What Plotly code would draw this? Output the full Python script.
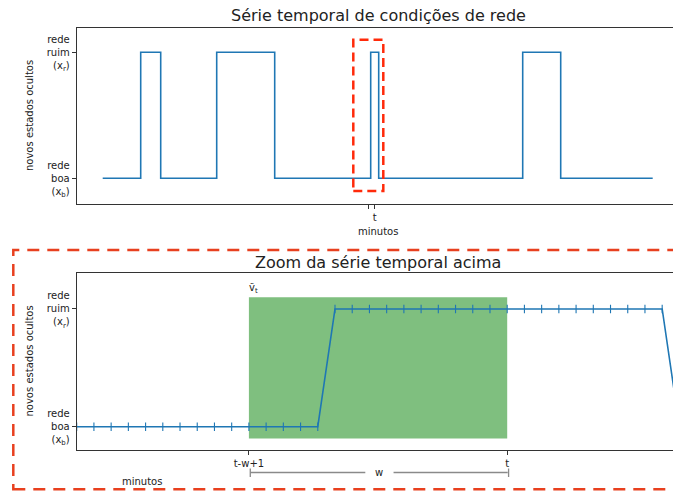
import plotly.graph_objects as go

W, H = 673, 493

# ---------------- data ----------------
# top: step series of hidden network state (0 = rede boa, 1 = rede ruim)
top_minutes = [13, 32, 42, 70, 99, 147, 151, 223, 242, 288]
top_states = [0, 1, 0, 1, 0, 1, 0, 1, 0, 0]
top_tick_vals = [146, 149]
top_tick_text = ["", "t"]
zoom_window = [138.3, 153.3]   # dashed box in top chart (minutes)

# bottom: zoomed series, one point per minute
zoom_states = [0] * 15 + [1] * 20 + [0]
zoom_minutes = list(range(len(zoom_states)))
t_idx = 25
w_len = 16
bot_tick_vals = [t_idx - w_len + 1, t_idx]
bot_tick_text = ["t-w+1", "t"]

y_tick_vals = [0, 1]
y_tick_text = ["rede<br>boa<br>(x<sub>b</sub>)", "rede<br>ruim<br>(x<sub>r</sub>)"]

# ---------------- styling ----------------
FONT = "DejaVu Sans"
TXT = "#222222"
BLUE = "#1f77b4"
SPINE = "#333333"


def px_x(p):
    return p / W


def px_y(p):
    return 1 - p / H


fig = go.Figure()

fig.add_trace(go.Scatter(
    x=top_minutes, y=top_states, mode="lines", line=dict(color=BLUE, width=1.6, shape="hv"),
    xaxis="x", yaxis="y", showlegend=False, hoverinfo="skip"))

fig.add_trace(go.Scatter(
    x=zoom_minutes, y=zoom_states, mode="lines+markers",
    line=dict(color=BLUE, width=1.6),
    marker=dict(symbol="line-ns-open", size=6, line=dict(color=BLUE, width=1.1)),
    xaxis="x2", yaxis="y2", showlegend=False, hoverinfo="skip"))

left = 76.7
x_dom = [px_x(left), 1.0]

axis_common = dict(showgrid=False, zeroline=False, showline=True, linecolor=SPINE, linewidth=1,
                   ticks="outside", ticklen=4, tickcolor=SPINE, tickwidth=1,
                   tickfont=dict(family=FONT, size=10, color=TXT))

fig.update_layout(
    width=W, height=H, margin=dict(l=0, r=0, t=0, b=0),
    paper_bgcolor="white", plot_bgcolor="white",
    font=dict(family=FONT, size=10, color=TXT),
    xaxis=dict(domain=x_dom, range=[0, (W - left) / 2.0], anchor="y", mirror=True,
               tickmode="array", tickvals=top_tick_vals, ticktext=top_tick_text, **axis_common),
    yaxis=dict(domain=[px_y(204), px_y(27.7)], range=[-0.204, 1.195], anchor="x",
               tickmode="array", tickvals=y_tick_vals, ticktext=y_tick_text, **axis_common),
    xaxis2=dict(domain=x_dom, range=[0, (W - left) / 17.22], anchor="y2", mirror=True,
                tickmode="array", tickvals=bot_tick_vals, ticktext=bot_tick_text, **axis_common),
    yaxis2=dict(domain=[px_y(450), px_y(273.3)], range=[-0.198, 1.303], anchor="x2",
                tickmode="array", tickvals=y_tick_vals, ticktext=y_tick_text, **axis_common),
)

shapes = []
# green window over last w minutes
shapes.append(dict(type="rect", xref="x2", yref="y2", x0=t_idx - w_len + 1, x1=t_idx,
                   y0=-0.1, y1=1.1, fillcolor="rgb(127,191,127)", line=dict(width=0), layer="below"))
# red dashed box in the top chart
shapes.append(dict(type="rect", xref="x", yref="y", x0=zoom_window[0], x1=zoom_window[1],
                   y0=-0.1, y1=1.1, line=dict(color="#ff2a0a", width=2.5, dash="9px,5px")))
# red dashed frame around the bottom chart
shapes.append(dict(type="rect", xref="paper", yref="paper", x0=px_x(13.3), x1=1.05,
                   y0=px_y(489.3), y1=px_y(250), line=dict(color="#e8401f", width=2.5, dash="12px,8px")))

# w bracket
GRAY = "#8a8a8a"
yl = px_y(472.5)
xa, xb = t_idx - w_len + 1 + 0.08, t_idx + 0.08
mid = (xa + xb) / 2
gap = 0.82
shapes.append(dict(type="line", xref="x2", yref="paper", x0=xa, x1=mid - gap, y0=yl, y1=yl,
                   line=dict(color=GRAY, width=1.5)))
shapes.append(dict(type="line", xref="x2", yref="paper", x0=mid + gap, x1=xb - 0.05, y0=yl, y1=yl,
                   line=dict(color=GRAY, width=1.5)))
for xv in (xa, xb):
    shapes.append(dict(type="line", xref="x2", yref="paper", x0=xv, x1=xv,
                       y0=px_y(477), y1=px_y(468.5), line=dict(color=GRAY, width=1.3)))
fig.update_layout(shapes=shapes)

ann = []
ann.append(dict(text="Série temporal de condições de rede", xref="paper", yref="paper",
                x=px_x(378), y=px_y(15), xanchor="center", yanchor="middle", showarrow=False,
                font=dict(family=FONT, size=16, color=TXT)))
ann.append(dict(text="Zoom da série temporal acima", xref="paper", yref="paper",
                x=px_x(378), y=px_y(262), xanchor="center", yanchor="middle", showarrow=False,
                font=dict(family=FONT, size=16, color=TXT)))
for yc in (116, 361.5):
    ann.append(dict(text="novos estados ocultos", xref="paper", yref="paper",
                    x=px_x(29), y=px_y(yc), xanchor="center", yanchor="middle", textangle=-90,
                    showarrow=False, font=dict(family=FONT, size=10, color=TXT)))
ann.append(dict(text="minutos", xref="paper", yref="paper", x=px_x(378), y=px_y(231),
                xanchor="center", yanchor="middle", showarrow=False, font=dict(family=FONT, size=10, color=TXT)))
ann.append(dict(text="minutos", xref="paper", yref="paper", x=px_x(142), y=px_y(481),
                xanchor="center", yanchor="middle", showarrow=False, font=dict(family=FONT, size=10, color=TXT)))
ann.append(dict(text="w", xref="x2", yref="paper", x=mid, y=yl, xanchor="center", yanchor="middle",
                showarrow=False, font=dict(family=FONT, size=10, color=TXT)))
ann.append(dict(text="ṽ<sub>t</sub>", xref="x2", yref="y2", x=t_idx - w_len + 1, y=1.1,
                xanchor="left", yanchor="bottom", showarrow=False, xshift=-2,
                font=dict(family=FONT, size=10, color=TXT)))
fig.update_layout(annotations=ann)

fig.write_html("out.html")
